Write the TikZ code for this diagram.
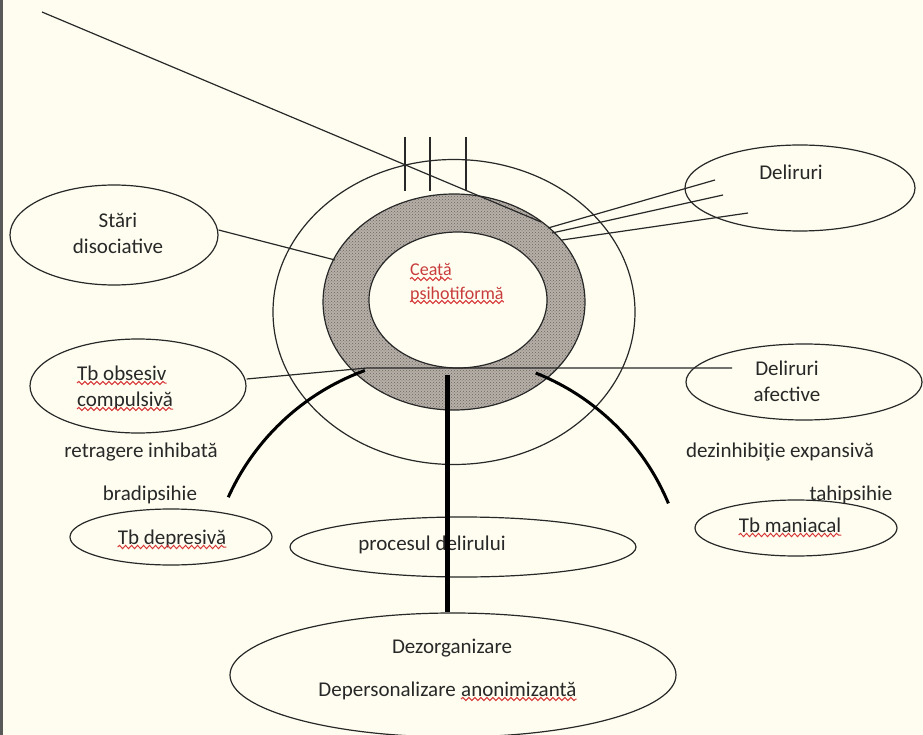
\documentclass[tikz,border=0pt]{standalone}
\usepackage{fontspec}
\setmainfont{Carlito}
\usetikzlibrary{shapes.geometric,decorations.pathmorphing,patterns}
\definecolor{bg}{RGB}{254,253,240}
\definecolor{ink}{RGB}{40,40,40}
\definecolor{ringc}{RGB}{182,176,169}
\definecolor{ringd}{RGB}{105,100,95}
\definecolor{sq}{RGB}{215,55,55}
\definecolor{redtxt}{RGB}{200,60,60}
\begin{document}
\begin{tikzpicture}[x=1pt,y=-1pt,
  ell/.style={draw=ink, line width=1.2pt, ellipse, inner sep=0pt},
  txt/.style={text=ink, font=\fontsize{21}{26}\selectfont, inner sep=0pt},
  ctxt/.style={text=redtxt, font=\fontsize{18}{23}\selectfont, inner sep=0pt},
  thinln/.style={draw=ink, line width=1.2pt},
  thickarc/.style={draw=black, line width=3pt},
  squig/.style={draw=sq, line width=1pt, decorate, decoration={snake, amplitude=1.6pt, segment length=6pt}}]
\useasboundingbox (0,0) rectangle (923,735);
\fill[bg] (0,0) rectangle (923,735);
\fill[black!65] (0,0) rectangle (3,735);

% outer circle
\node[ell, minimum width=362, minimum height=305] (outer) at (454,312) {};
% ring
\fill[ringc, even odd rule] (454,302) ellipse [x radius=131, y radius=108] (458,300) ellipse [x radius=89, y radius=68];
\fill[pattern=crosshatch dots, pattern color=ringd, even odd rule] (454,302) ellipse [x radius=131, y radius=108] (458,300) ellipse [x radius=89, y radius=68];
\node[ell, minimum width=262, minimum height=216] (ringO) at (454,302) {};
\node[ell, fill=bg, minimum width=178, minimum height=136] (ringI) at (458,300) {};

% centre text
\node[ctxt, anchor=base west] (c1) at (410,276) {Ceață};
\node[ctxt, anchor=base west] (c2) at (410,299) {psihotiformă};
\draw[squig] ([yshift=-3pt]c1.base west) -- ([yshift=-3pt]c1.base east);
\draw[squig] ([yshift=-3pt]c2.base west) -- ([yshift=-3pt]c2.base east);

% ellipses
\node[ell, minimum width=208, minimum height=100] (sd) at (114,235) {};
\node[ell, minimum width=230, minimum height=86] (del) at (800,188) {};
\node[ell, minimum width=216, minimum height=94] (tbo) at (138,386) {};
\node[ell, minimum width=236, minimum height=76] (da) at (804,382) {};
\node[ell, minimum width=202, minimum height=56] (tbd) at (171,537) {};
\node[ell, minimum width=346, minimum height=60] (proc) at (463,547) {};
\node[ell, minimum width=202, minimum height=56] (tbm) at (796,528) {};
\node[ell, minimum width=446, minimum height=124] (dez) at (453,675) {};

% texts
\node[txt, align=center] (tsd) at (118,233) {Stări\\disociative};
\node[txt] (tdel) at (791,172) {Deliruri};
\node[txt, anchor=base west] (to1) at (77,380) {Tb obsesiv};
\node[txt, anchor=base west] (to2) at (77,406) {compulsivă};
\draw[squig] ([yshift=-3pt]to1.base west) -- ([yshift=-3pt]to1.base east);
\draw[squig] ([yshift=-3pt]to2.base west) -- ([yshift=-3pt]to2.base east);
\node[txt, align=center] (tda) at (787,381) {Deliruri\\afective};
\node[txt] (tri) at (141,452) {retragere inhibată};
\node[txt] (tbr) at (150,495) {bradipsihie};
\node[txt, anchor=base] (ttbd) at (172,544) {Tb depresivă};
\draw[squig] ([yshift=-3pt]ttbd.base west) -- ([yshift=-3pt]ttbd.base east);
\node[txt] (tproc) at (432,545) {procesul delirului};
\node[txt, anchor=base] (ttbm) at (790,532) {Tb maniacal};
\draw[squig] ([yshift=-3pt]ttbm.base west) -- ([yshift=-3pt]ttbm.base east);
\node[txt] (tdez) at (780,452) {dezinhibiţie expansivă};
\node[txt] (ttah) at (851,495) {tahipsihie};
\node[txt] (tdz) at (452,648) {Dezorganizare};
\node[txt, anchor=base east] (dp1) at (456,696) {Depersonalizare};
\node[txt, anchor=base west] (dp2) at (461,696) {anonimizantă};
\draw[squig] ([yshift=-3pt]dp2.base west) -- ([yshift=-3pt]dp2.base east);

% coordinates
\coordinate (diagS) at (42,12);
\coordinate (diagE) at (541,222);
\coordinate (r1) at (548,228);
\coordinate (r2) at (552,233);
\coordinate (r3) at (562,240);
\coordinate (d1) at (715,180);
\coordinate (d2) at (723,195);
\coordinate (d3) at (748,213);
\coordinate (sdR) at (335,260);
\coordinate (kink) at (367,368);
\coordinate (daL) at (732,368);
\coordinate (v1t) at (405,137); \coordinate (v1b) at (405,191);
\coordinate (v2t) at (430,137); \coordinate (v2b) at (430,191);
\coordinate (v3t) at (466,137); \coordinate (v3b) at (466,191);
\coordinate (vt) at (447,375);

% connectors
\draw[thinln] (diagS) -- (diagE);
\draw[thinln] (r1) -- (d1);
\draw[thinln] (r2) -- (d2);
\draw[thinln] (r3) -- (d3);
\draw[thinln] (sd.east) ++(0,-5) -- (sdR);
\draw[thinln] (tbo.east) ++(0,-7) -- (kink) -- (daL);
\draw[thinln] (v1t) -- (v1b);
\draw[thinln] (v2t) -- (v2b);
\draw[thinln] (v3t) -- (v3b);

% thick arcs
\draw[thickarc] plot[domain=110:155.7, samples=50, smooth] ({447+240*cos(\x)},{596-240*sin(\x)});
\draw[thickarc] plot[domain=22.7:68.3, samples=50, smooth] ({447+240*cos(\x)},{596-240*sin(\x)});

% thick vertical
\draw[black, line width=5pt] (vt) -- (vt |- dez.north);
\end{tikzpicture}
\end{document}
